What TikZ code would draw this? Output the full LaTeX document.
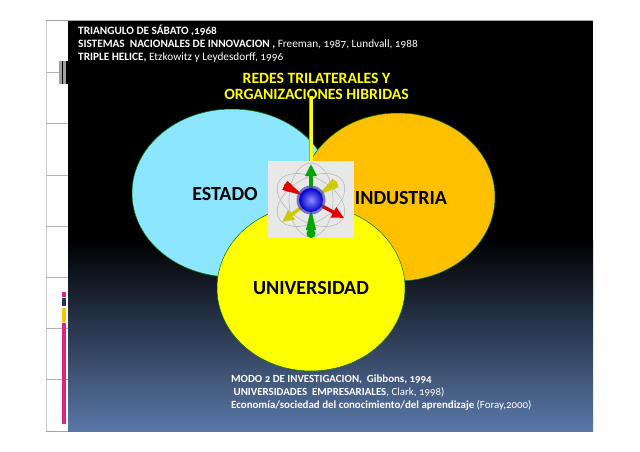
\documentclass[tikz,border=0pt]{standalone}
\usepackage{fontspec}
\setmainfont[Numbers=OldStyle]{Carlito}
\usepackage{tikz}
\usetikzlibrary{arrows.meta,shapes.geometric}
\definecolor{cielo}{HTML}{8CE6FF}
\definecolor{naranja}{HTML}{FFC000}
\definecolor{amarillo}{HTML}{FFFF00}
\definecolor{azulfondo}{HTML}{5A77A8}
\definecolor{rosa}{HTML}{E0237F}
\tikzset{
  circulo/.style = {ellipse, draw = green!45!black, line width = 0.5pt, inner sep = 0pt},
  nombre/.style = {font = \bfseries\fontsize{20}{20}\selectfont, text = black},
  nota/.style = {text = white, align = left, anchor = north west, inner sep = 0pt},
  raya/.style = {line width = 1pt, draw = gray!70},
  anillo/.style = {draw = gray!55, line width = 0.6pt},
  flecha/.style = {line width = 3.4pt, shorten < = 10pt, -{Triangle[length = 12pt, width = 11pt]}},
  cola/.style = {line width = 0.4pt, shorten > = 9pt, {Circle[length = 9pt]}-{Triangle[length = 21pt, width = 10pt]}}
}
\begin{document}
\begin{tikzpicture}[x = 1pt, y = -1pt]
\useasboundingbox (0,0) rectangle (640,452);
\fill[white] (0,0) rectangle (640,452);
% margen izquierdo
\draw[gray!40, line width = 0.7pt] (46,21) -- (46,431);
\draw[raya] (46,21) -- (593,21);
\draw[raya] (46,431) -- (593,431);
\foreach \y in {72,123,175,226,277,328,379}
  \draw[gray!60, line width = 0.6pt] (46,\y) -- (68,\y);
\fill[gray!75] (59,61) rectangle (68,84);
\fill[black] (62,61) rectangle (63,84);
\fill[black] (66,61) rectangle (68,84);
\fill[rosa] (62,292) rectangle (66,297);
\fill[gray!60!blue!60!black] (62,298) rectangle (66,306);
\fill[naranja] (62,308) rectangle (66,322);
\fill[rosa] (62,323) rectangle (66,424);
% fondo
\fill[black] (68,21) rectangle (593,240);
\shade[top color = black, bottom color = azulfondo] (68,240) rectangle (593,431);
% circulos
\node[circulo, fill = cielo, minimum width = 200pt, minimum height = 168pt] (estado) at (232,193) {};
\node[circulo, fill = naranja, minimum width = 194pt, minimum height = 168pt] (industria) at (398,197) {};
\node[circulo, fill = amarillo, minimum width = 188pt, minimum height = 166pt] (universidad) at (311,288) {};
\node[nombre] (estadotxt) at (225,194) {ESTADO};
\node[nombre] (industriatxt) at (401,198) {INDUSTRIA};
\node[nombre] (universidadtxt) at (311,288) {UNIVERSIDAD};
% titulo y cubo
\node[font = \bfseries\fontsize{15.7}{15.5}\selectfont, text = amarillo, align = center, inner sep = 0pt] (redes) at (316.5,86.5) {REDES TRILATERALES Y\\ORGANIZACIONES HIBRIDAS};
\node[fill = gray!18, minimum width = 86pt, minimum height = 77pt, inner sep = 0pt] (cubo) at (311,199.5) {};
\draw[line width = 4.5pt, draw = amarillo!70!black, shorten < = -4pt] (redes.south -| cubo.north) -- (cubo.north);
\draw[line width = 3pt, draw = amarillo, shorten < = -4pt] (redes.south -| cubo.north) -- (cubo.north);
% esfera
\coordinate (centro) at (311,200);
\draw[anillo, rotate around = {90:(centro)}] (centro) ellipse (37pt and 22pt);
\draw[anillo, rotate around = {30:(centro)}] (centro) ellipse (37pt and 22pt);
\draw[anillo, rotate around = {-30:(centro)}] (centro) ellipse (37pt and 22pt);
\coordinate (verdearriba) at (311,164);
\coordinate (verdeabajo) at (311,229);
\coordinate (rojoarriba) at (284,185);
\coordinate (rojoabajo) at (344,218);
\coordinate (amarilloarriba) at (337,182);
\coordinate (amarilloabajo) at (282,222);
\draw[flecha, draw = green!65!black, fill = green!65!black] (centro) -- (verdearriba);
\draw[cola, draw = green!65!black, fill = green!65!black] (verdeabajo) -- (centro);
\draw[flecha, draw = red!90!black, fill = red!90!black] (centro) -- (rojoabajo);
\draw[cola, draw = red!90!black, fill = red!90!black] (rojoarriba) -- (centro);
\draw[flecha, draw = amarillo!80!black, fill = amarillo!80!black] (centro) -- (amarilloabajo);
\draw[cola, draw = amarillo!80!black, fill = amarillo!80!black] (amarilloarriba) -- (centro);
\fill[blue!45!gray, opacity = 0.7] (centro) circle (14.5pt);
\shade[shading = radial, inner color = blue!45!white, outer color = blue!80!black] (centro) circle (12pt);
% textos
\node[nota, font = \fontsize{11.25}{12.8}\selectfont] (arriba) at (78,25) {\textbf{TRIANGULO DE SÁBATO ,1968}\\\textbf{SISTEMAS\ \ NACIONALES DE INNOVACION ,} Freeman, 1987, Lundvall, 1988\\\textbf{TRIPLE HELICE,} Etzkowitz y Leydesdorff, 1996};
\node[nota, font = \fontsize{10.9}{13}\selectfont] (abajo) at (231,374.5) {\textbf{MODO 2 DE INVESTIGACION,\ \ Gibbons, 1994}\\\ \textbf{UNIVERSIDADES\ \ EMPRESARIALES}, Clark, 1998)\\\textbf{Economía/sociedad del conocimiento/del aprendizaje} (Foray,2000)};
\end{tikzpicture}
\end{document}
